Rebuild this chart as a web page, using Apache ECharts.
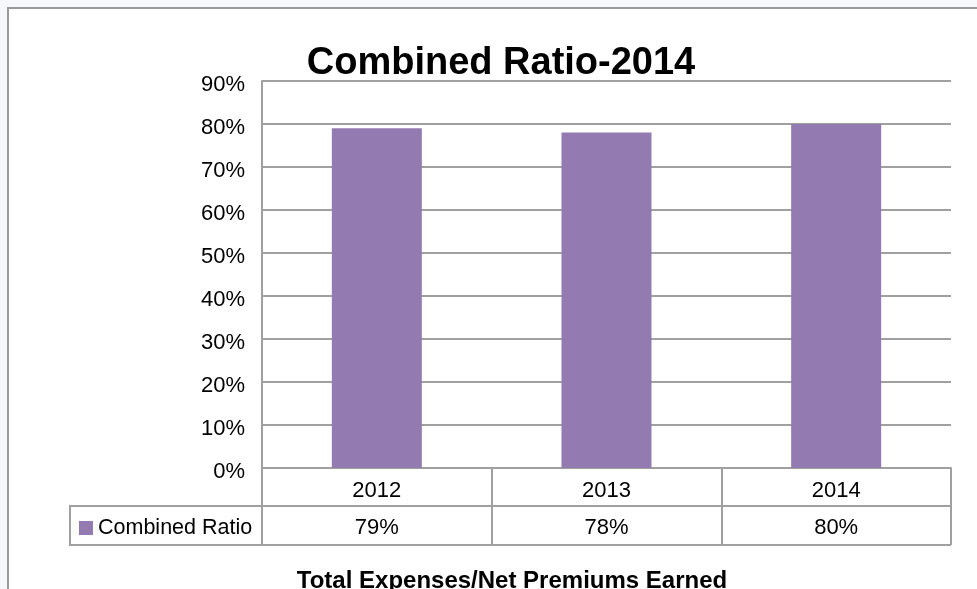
<!DOCTYPE html>
<html>
<head>
<meta charset="utf-8">
<title>Combined Ratio-2014</title>
<script src="https://cdn.jsdelivr.net/npm/echarts@6/dist/echarts.min.js"></script>
<style>
  html, body { margin: 0; padding: 0; background: #f5f7fb; }
  #chart { width: 977px; height: 589px; }
</style>
</head>
<body>
<div id="chart"></div>
<script>
// Combined ratio by year, drawn as columns with a data table underneath
const years = ['2012', '2013', '2014'];
const combinedRatio = [0.79, 0.78, 0.80];
const seriesName = 'Combined Ratio';
const yTicks = { min: 0, max: 0.9, step: 0.1 };
const chartTitle = 'Combined Ratio-2014';
const footnote = 'Total Expenses/Net Premiums Earned';

const pct = v => Math.round(v * 100) + '%';
const FONT = 'Liberation Sans, Arial, sans-serif';
const GRID = '#a0a0a0';

const chart = echarts.init(document.getElementById('chart'), null, { renderer: 'canvas' });

chart.setOption({
  backgroundColor: '#f5f7fb',
  animation: false,
  textStyle: { fontFamily: FONT },
  grid: { left: 262, right: 26, top: 81, bottom: 121, containLabel: false },
  legend: {
    data: [seriesName],
    left: 74,
    top: 512,
    icon: 'rect',
    itemWidth: 14,
    itemHeight: 14,
    itemGap: 5,
    textStyle: { fontSize: 21.5, color: '#000', fontFamily: FONT }
  },
  xAxis: [
    {
      type: 'category',
      data: years,
      position: 'bottom',
      axisLine: { show: true, lineStyle: { color: GRID, width: 2 } },
      axisTick: { show: true, length: 77, interval: 0, lineStyle: { color: GRID, width: 2 } },
      axisLabel: { fontSize: 22, color: '#000', margin: 12, fontFamily: FONT }
    },
    {
      type: 'category',
      data: combinedRatio.map(pct),
      position: 'bottom',
      offset: 38,
      axisLine: { show: true, lineStyle: { color: GRID, width: 2 } },
      axisTick: { show: true, length: 39, interval: 0, lineStyle: { color: GRID, width: 2 } },
      axisLabel: { fontSize: 22, color: '#000', margin: 11, fontFamily: FONT }
    }
  ],
  yAxis: {
    type: 'value',
    min: yTicks.min,
    max: yTicks.max,
    interval: yTicks.step,
    axisLine: { show: true, lineStyle: { color: GRID, width: 2 } },
    axisTick: { show: false },
    splitLine: { show: true, lineStyle: { color: GRID, width: 2 } },
    axisLabel: {
      fontSize: 22,
      color: '#000',
      margin: 17,
      verticalAlign: 'top',
      lineHeight: 7,
      fontFamily: FONT,
      formatter: v => pct(v)
    }
  },
  series: [
    {
      name: seriesName,
      type: 'bar',
      data: combinedRatio,
      xAxisIndex: 0,
      barWidth: 90,
      itemStyle: { color: '#937bb1' }
    }
  ],
  graphic: [
    {
      type: 'rect',
      z: -10,
      silent: true,
      shape: { x: 8, y: 8, width: 1100, height: 700 },
      style: { fill: '#ffffff', stroke: '#9a9a9a', lineWidth: 2 }
    },
    {
      type: 'polyline',
      silent: true,
      shape: { points: [[262, 506], [70, 506], [70, 545], [951, 545]] },
      style: { fill: null, stroke: GRID, lineWidth: 2 }
    },
    {
      type: 'text',
      silent: true,
      x: 501,
      y: 45,
      style: {
        text: chartTitle,
        font: 'bold 38px ' + FONT,
        fill: '#000',
        textAlign: 'center',
        textVerticalAlign: 'top'
      }
    },
    {
      type: 'text',
      silent: true,
      x: 512,
      y: 569,
      style: {
        text: footnote,
        font: 'bold 24px ' + FONT,
        fill: '#000',
        textAlign: 'center',
        textVerticalAlign: 'top'
      }
    }
  ]
});
</script>
</body>
</html>
